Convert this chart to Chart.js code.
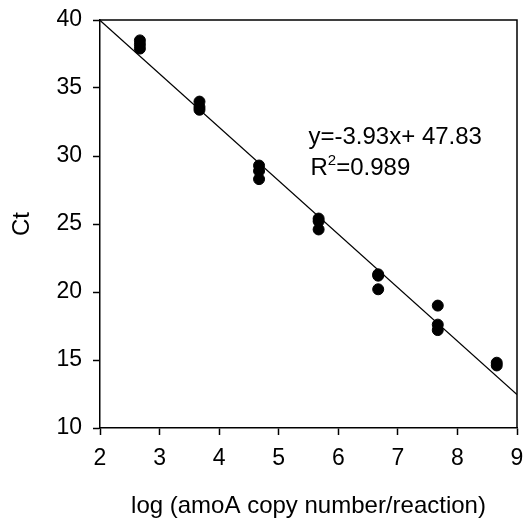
<!DOCTYPE html>
<html>
<head>
<meta charset="utf-8">
<script src="https://cdn.jsdelivr.net/npm/chart.js@4/dist/chart.umd.min.js"></script>
<style>
  html, body { margin: 0; padding: 0; background: #fff; }
  #wrap { width: 524px; height: 521px; }
</style>
</head>
<body>
<div id="wrap"><canvas id="chart"></canvas></div>
<script>
// standard curve readings (log copy number vs Ct)
const logCopies = [2.67, 2.67, 2.67, 3.67, 3.67, 3.67, 4.67, 4.67, 4.67, 5.67, 5.67, 5.67, 6.67, 6.67, 6.67, 7.67, 7.67, 7.67, 8.66, 8.66];
const ctValues  = [38.5, 38.2, 37.9, 34.0, 33.6, 33.4, 29.3, 28.9, 28.3, 25.4, 25.2, 24.6, 21.3, 21.2, 20.2, 19.0, 17.6, 17.2, 14.8, 14.6];

// fitted line end points
const fitX = [2, 9];
const fitY = [39.97, 12.46];

const xTicks = [2, 3, 4, 5, 6, 7, 8, 9];
const yTicks = [10, 15, 20, 25, 30, 35, 40];

const eqLine = "y=-3.93x+ 47.83";
const r2Value = "=0.989";

const FONT = "'Liberation Sans', Arial, sans-serif";

const points = logCopies.map((x, i) => ({ x: x, y: ctValues[i] }));
const fitLine = fitX.map((x, i) => ({ x: x, y: fitY[i] }));

// box around plot + equation text
const extras = {
  id: "extras",
  afterDraw(chart) {
    const { ctx, chartArea, scales } = chart;
    ctx.save();
    ctx.strokeStyle = "#000";
    ctx.lineWidth = 1.5;
    ctx.beginPath();
    ctx.moveTo(chartArea.left, chartArea.top);
    ctx.lineTo(chartArea.right, chartArea.top);
    ctx.lineTo(chartArea.right, chartArea.bottom);
    ctx.stroke();

    const tx = scales.x.getPixelForValue(5.5);
    const y1 = scales.y.getPixelForValue(30.9);
    const y2 = scales.y.getPixelForValue(28.6);
    ctx.fillStyle = "#000";
    ctx.textBaseline = "alphabetic";
    ctx.textAlign = "left";
    ctx.font = "24px " + FONT;
    ctx.fillText(eqLine, tx, y1);
    ctx.fillText("R", tx + 2, y2);
    const rw = ctx.measureText("R").width;
    ctx.font = "15px " + FONT;
    ctx.fillText("2", tx + 2 + rw, y2 - 10);
    const sw = ctx.measureText("2").width;
    ctx.font = "24px " + FONT;
    ctx.fillText(r2Value, tx + 2 + rw + sw, y2);
    ctx.restore();
  }
};

new Chart(document.getElementById("chart"), {
  type: "scatter",
  data: {
    datasets: [
      {
        label: "Ct",
        data: points,
        backgroundColor: "#000",
        borderColor: "#000",
        pointRadius: 5.5,
        pointHoverRadius: 5.5
      },
      {
        label: "fit",
        data: fitLine,
        showLine: true,
        borderColor: "#000",
        borderWidth: 1.3,
        pointRadius: 0,
        fill: false
      }
    ]
  },
  options: {
    responsive: true,
    maintainAspectRatio: false,
    animation: false,
    events: [],
    layout: { padding: { top: 20, right: 7, left: 0, bottom: 0 } },
    plugins: {
      legend: { display: false },
      tooltip: { enabled: false }
    },
    scales: {
      x: {
        type: "linear",
        min: 2,
        max: 9,
        afterBuildTicks(scale) { scale.ticks = xTicks.map(v => ({ value: v })); },
        afterFit(scale) {
          scale.height = 93;
          scale.paddingLeft = 0;
          scale.paddingRight = 0;
        },
        grid: { drawOnChartArea: false, drawTicks: true, tickLength: 7, tickColor: "#000", tickWidth: 1.5 },
        border: { display: true, color: "#000", width: 1.5 },
        ticks: { color: "#000", padding: 10, font: { family: FONT, size: 23 }, maxRotation: 0 },
        title: {
          display: true,
          text: "log (amoA copy number/reaction)",
          color: "#000",
          font: { family: FONT, size: 24 },
          padding: { top: 0, bottom: 0 }
        }
      },
      y: {
        type: "linear",
        min: 10,
        max: 40,
        afterBuildTicks(scale) { scale.ticks = yTicks.map(v => ({ value: v })); },
        afterFit(scale) {
          scale.width = 100;
          scale.paddingTop = 0;
          scale.paddingBottom = 0;
        },
        grid: { drawOnChartArea: false, drawTicks: true, tickLength: 7, tickColor: "#000", tickWidth: 1.5 },
        border: { display: true, color: "#000", width: 1.5 },
        ticks: { color: "#000", padding: 11, font: { family: FONT, size: 23 } },
        title: {
          display: true,
          text: "Ct",
          color: "#000",
          font: { family: FONT, size: 24 },
          padding: { top: 8, bottom: 8 }
        }
      }
    }
  },
  plugins: [extras]
});
</script>
</body>
</html>
